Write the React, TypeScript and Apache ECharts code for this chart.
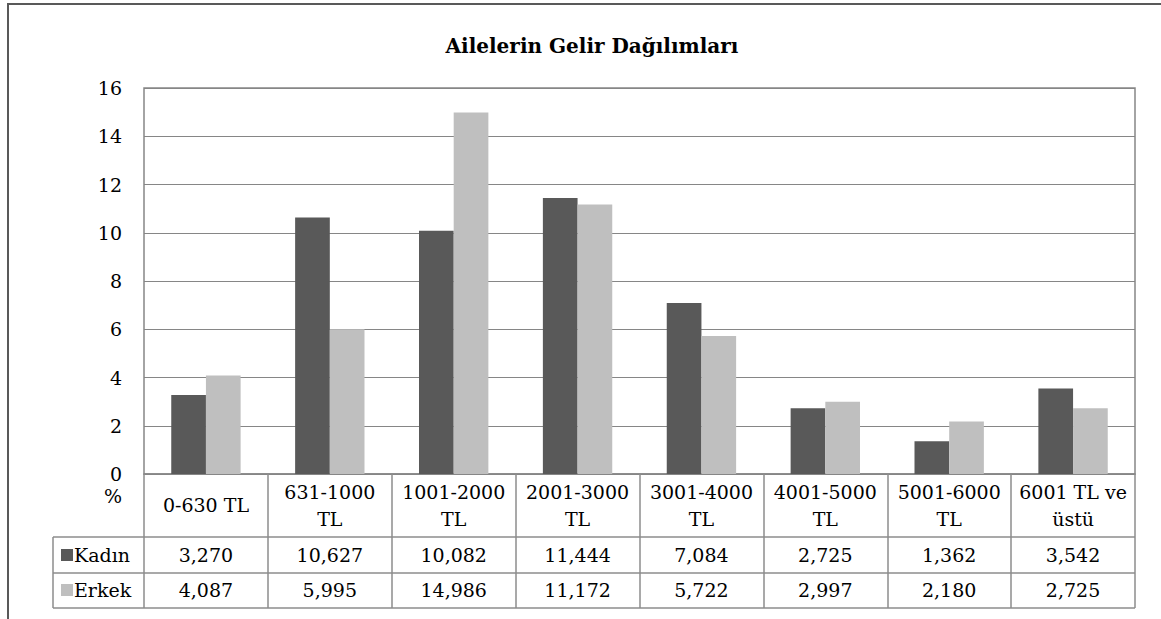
import React, { useEffect, useRef } from "react";
import * as echarts from "echarts";

const chartTitle = "Ailelerin Gelir Dağılımları";
const categories = [
  "0-630 TL",
  "631-1000\nTL",
  "1001-2000\nTL",
  "2001-3000\nTL",
  "3001-4000\nTL",
  "4001-5000\nTL",
  "5001-6000\nTL",
  "6001 TL ve\nüstü",
];
const seriesNames = ["Kadın", "Erkek"];
const kadin = [3.27, 10.627, 10.082, 11.444, 7.084, 2.725, 1.362, 3.542];
const erkek = [4.087, 5.995, 14.986, 11.172, 5.722, 2.997, 2.18, 2.725];
const yMin = 0;
const yMax = 16;
const yStep = 2;
const unitLabel = "%";

const colors = ["#595959", "#bfbfbf"];
const lineGray = "#868686";
const font = "DejaVu Serif";
const fs = 19;

const fmt = (v: number) => v.toFixed(3).replace(".", ",");

export default function App() {
  const ref = useRef<HTMLDivElement>(null);
  useEffect(() => {
    if (!ref.current) return;
    const chart = echarts.init(ref.current, null, { renderer: "svg" });
    const tableLine = { stroke: "#8c8c8c", lineWidth: 1.5 };
    chart.setOption({
      animation: false,
      textStyle: { fontFamily: font },
      title: {
        text: chartTitle,
        left: 587,
        top: 31,
        textAlign: "center",
        textStyle: { fontFamily: font, fontSize: 20, fontWeight: "bold", color: "#000" },
      },
      legend: {
        orient: "vertical",
        left: 61,
        top: 544,
        padding: 0,
        itemWidth: 12,
        itemHeight: 12,
        itemGap: 13,
        icon: "rect",
        data: seriesNames,
        textStyle: { fontFamily: font, fontSize: fs, color: "#000", lineHeight: 22, padding: [0, 0, 0, -4] },
      },
      grid: {
        left: 144,
        top: 88,
        width: 991,
        height: 386,
        show: true,
        borderColor: lineGray,
        borderWidth: 1.5,
        containLabel: false,
      },
      xAxis: [
        {
          type: "category",
          data: categories,
          position: "bottom",
          axisLine: { show: true, lineStyle: { color: lineGray, width: 1.5 } },
          axisTick: { show: true, length: 134, lineStyle: { color: "#8c8c8c", width: 1.5 } },
          axisLabel: {
            interval: 0,
            margin: 31,
            verticalAlign: "middle",
            lineHeight: 27,
            fontFamily: font,
            fontSize: fs,
            color: "#000",
          },
        },
        {
          type: "category",
          data: kadin.map(fmt),
          position: "bottom",
          axisLine: { show: false },
          axisTick: { show: false },
          axisLabel: { interval: 0, margin: 81, verticalAlign: "middle", fontFamily: font, fontSize: fs, color: "#000" },
        },
        {
          type: "category",
          data: erkek.map(fmt),
          position: "bottom",
          axisLine: { show: false },
          axisTick: { show: false },
          axisLabel: { interval: 0, margin: 116, verticalAlign: "middle", fontFamily: font, fontSize: fs, color: "#000" },
        },
      ],
      yAxis: {
        type: "value",
        min: yMin,
        max: yMax,
        interval: yStep,
        axisLine: { show: false },
        axisTick: { show: false },
        splitLine: { show: true, lineStyle: { color: lineGray, width: 1 } },
        axisLabel: { margin: 22, fontFamily: font, fontSize: fs, color: "#000" },
      },
      series: [
        {
          name: seriesNames[0],
          type: "bar",
          data: kadin,
          itemStyle: { color: colors[0] },
          barGap: "0%",
          barCategoryGap: "44%",
        },
        {
          name: seriesNames[1],
          type: "bar",
          data: erkek,
          itemStyle: { color: colors[1] },
          barGap: "0%",
          barCategoryGap: "44%",
        },
      ],
      graphic: [
        {
          type: "rect",
          shape: { x: 8, y: 4, width: 1200, height: 700 },
          style: { fill: "none", stroke: "#595959", lineWidth: 2 },
          silent: true,
        },
        {
          type: "text",
          x: 113,
          y: 496,
          style: { text: unitLabel, fontFamily: font, fontSize: 19, fill: "#000", align: "center", verticalAlign: "middle" },
        },
        { type: "line", shape: { x1: 53, y1: 537, x2: 1135, y2: 537 }, style: tableLine },
        { type: "line", shape: { x1: 53, y1: 573, x2: 1135, y2: 573 }, style: tableLine },
        { type: "line", shape: { x1: 53, y1: 608, x2: 1135, y2: 608 }, style: tableLine },
        { type: "line", shape: { x1: 53, y1: 537, x2: 53, y2: 608 }, style: tableLine },
      ],
    });
    return () => chart.dispose();
  }, []);
  return (
    <div
      ref={ref}
      style={{ position: "fixed", left: 0, top: 0, width: 1161, height: 619, background: "#fff" }}
    />
  );
}
